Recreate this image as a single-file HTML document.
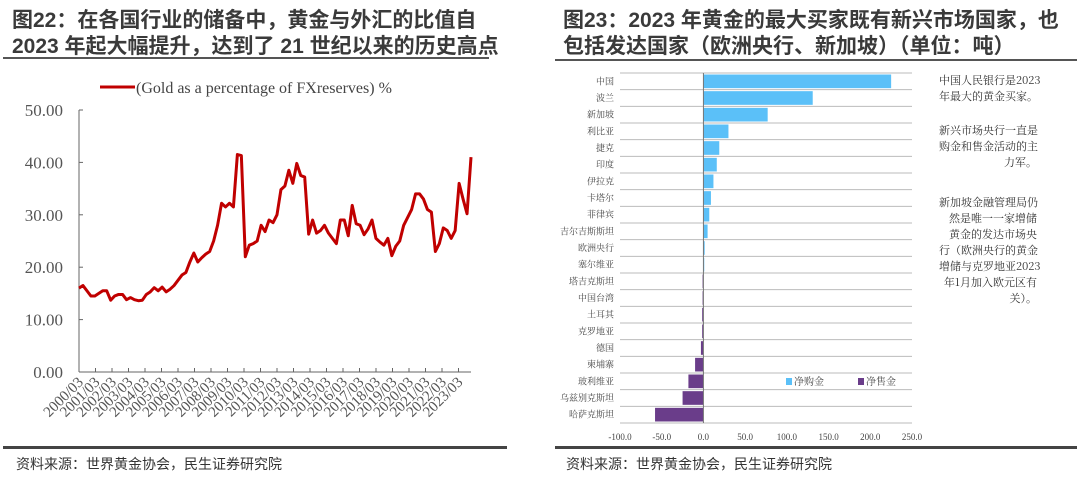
<!DOCTYPE html>
<html><head><meta charset="utf-8">
<style>
body{margin:0;width:1080px;height:478px;background:#fff;overflow:hidden;font-family:"Liberation Sans","Noto Sans CJK SC",sans-serif;}
svg{position:absolute;left:0;top:0}
</style></head>
<body>
<svg id="s" width="1080" height="478">
<text x="12" y="27" font-size="21" font-weight="bold" fill="#3a3a3a" font-family="'Liberation Sans','Noto Sans CJK SC',sans-serif">图22：在各国行业的储备中，黄金与外汇的比值自</text>
<text x="12" y="53" font-size="21" font-weight="bold" fill="#3a3a3a" font-family="'Liberation Sans','Noto Sans CJK SC',sans-serif">2023 年起大幅提升，达到了 21 世纪以来的历史高点</text>
<line x1="3" y1="58" x2="489" y2="58" stroke="#555" stroke-width="2"/>
<text x="563" y="27" font-size="21" font-weight="bold" fill="#3a3a3a" font-family="'Liberation Sans','Noto Sans CJK SC',sans-serif">图23：2023 年黄金的最大买家既有新兴市场国家，也</text>
<text x="563" y="53" font-size="21" font-weight="bold" fill="#3a3a3a" font-family="'Liberation Sans','Noto Sans CJK SC',sans-serif">包括发达国家（欧洲央行、新加坡）（单位：吨）</text>
<line x1="555" y1="60" x2="1077" y2="60" stroke="#555" stroke-width="2"/>
<line x1="3" y1="447.5" x2="507" y2="447.5" stroke="#444" stroke-width="3"/>
<line x1="555" y1="447.5" x2="1077" y2="447.5" stroke="#444" stroke-width="3"/>
<text x="16" y="469" font-size="14" fill="#333" font-family="'Liberation Sans','Noto Sans CJK SC',sans-serif">资料来源：世界黄金协会，民生证券研究院</text>
<text x="566" y="469" font-size="14" fill="#333" font-family="'Liberation Sans','Noto Sans CJK SC',sans-serif">资料来源：世界黄金协会，民生证券研究院</text>
<g id="left"></g>
<g id="right"></g>
<g id="notes" font-family="'Noto Serif CJK SC','Liberation Serif',serif" font-size="11" fill="#333">
<text x="939" y="84">中国人民银行是2023</text>
<text x="939" y="100">年最大的黄金买家。</text>
<text x="939" y="134">新兴市场央行一直是</text>
<text x="939" y="150">购金和售金活动的主</text>
<text x="1037" y="166" text-anchor="end">力军。</text>
<text x="939" y="206">新加坡金融管理局仍</text>
<text x="1037" y="222" text-anchor="end">然是唯一一家增储</text>
<text x="1037" y="238" text-anchor="end">黄金的发达市场央</text>
<text x="939" y="254">行（欧洲央行的黄金</text>
<text x="939" y="270">增储与克罗地亚2023</text>
<text x="1037" y="286" text-anchor="end">年1月加入欧元区有</text>
<text x="1037" y="302" text-anchor="end">关）。</text>
</g>
</svg>
<script>
const goldShare=[16,16.5,15.5,14.5, 14.5,15,15.5,15.5, 13.7,14.5,14.8,14.8, 13.8,14.2,13.8,13.6,
13.7,14.8,15.3,16.1, 15.5,16.2,15.3,15.8, 16.5,17.5,18.5,19, 21,22.7,21,21.8,
22.5,23,25,28, 32.2,31.5,32.2,31.5, 41.5,41.3,22,24.2, 24.5,25,28,26.8,
29,28.5,30,34.8, 35.5,38.5,36,39.8, 37.5,37.2,26.3,29, 26.5,27,28,26.5,
25.5,24.5,29,29, 26,31.8,28.3,28, 26.2,27.3,29,25.5, 24.8,24.2,25.5,22.2,
24,25,28,29.5, 31,34,34,33, 31,30.5,23,24.5, 27.5,27,25.5,27, 36,33,30.2,41];
const yTicks=[0,10,20,30,40,50];
const xTickLabels=["2000/03","2001/03","2002/03","2003/03","2004/03","2005/03","2006/03","2007/03","2008/03","2009/03","2010/03","2011/03","2012/03","2013/03","2014/03","2015/03","2016/03","2017/03","2018/03","2019/03","2020/03","2021/03","2022/03","2023/03"];
const countries=["中国","波兰","新加坡","利比亚","捷克","印度","伊拉克","卡塔尔","菲律宾","吉尔吉斯斯坦","欧洲央行","塞尔维亚","塔吉克斯坦","中国台湾","土耳其","克罗地亚","德国","柬埔寨","玻利维亚","乌兹别克斯坦","哈萨克斯坦"];
const netTonnes=[225,131,77,30,19,16,12,9,7,5,1.5,1,-1,-1,-1.5,-1.5,-3,-10,-18,-25,-58];
const bTicks=[-100,-50,0,50,100,150,200,250];

(function(){
const NS="http://www.w3.org/2000/svg";
function mk(p,t,a){const e=document.createElementNS(NS,t);for(const k in a)e.setAttribute(k,a[k]);p.appendChild(e);return e;}
const L=document.getElementById('left');
const x0=79,x1=471,yy0=372,yy1=110;
const ly=v=>yy0-(v-0)/(50-0)*(yy0-yy1);
const yearStep=16.5;
const lx=i=>x0+i*(x1-x0)/(goldShare.length-1);
let ax=mk(L,'line',{x1:x0,y1:yy1,x2:x0,y2:yy0,stroke:'#666'});


let bx=mk(L,'line',{x1:x0,y1:yy0,x2:x1,y2:yy0,stroke:'#666'});


yTicks.forEach(v=>{
 const t=mk(L,'text',{x:63,y:ly(v)+6,'text-anchor':'end','font-size':17,fill:'#555','font-family':"'Liberation Serif',serif"});
 t.textContent=v.toFixed(2);
 
 
 const m=mk(L,'line',{x1:x0,y1:ly(v),x2:x0+4,y2:ly(v),stroke:'#666'});
 
 
});
xTickLabels.forEach((s,i)=>{
 const x=x0+i*yearStep;
 const m=mk(L,'line',{x1:x,y1:yy0,x2:x,y2:yy0-4,stroke:'#666'});
 
 
 const t=mk(L,'text',{x:x+5,y:yy0+11,'text-anchor':'end','font-size':15,fill:'#555','font-family':"'Liberation Serif',serif",transform:`rotate(-45 ${x+5} ${yy0+11})`});
 t.textContent=s;
 
 
});
const pl=mk(L,'polyline',{points:goldShare.map((v,i)=>lx(i)+','+ly(v)).join(' '),fill:'none',stroke:'#c00000','stroke-width':3,'stroke-linejoin':'round'});


const lg=mk(L,'line',{x1:100,y1:87,x2:135,y2:87,stroke:'#c00000','stroke-width':3});


const lt=mk(L,'text',{x:136,y:93,'font-size':16,fill:'#444','font-family':"'Liberation Serif',serif"});
lt.textContent='(Gold as a percentage of FXreserves) %';



const R=document.getElementById('right');
const bx0=620,bx1=912,pTop=73,pBot=423;
const bxs=v=>bx0+(v-(-100))/(350)*(bx1-bx0);
const rowH=(pBot-pTop)/countries.length;
for(let i=0;i<=countries.length;i++){
 const g=mk(R,'line',{x1:bx0,y1:pTop+i*rowH,x2:bx1,y2:pTop+i*rowH,stroke:'#bbb','stroke-width':1});
 
 
}
countries.forEach((c,i)=>{
 const v=netTonnes[i];
 const y=pTop+i*rowH+1.5;
 const r=mk(R,'rect',{x:Math.min(bxs(0),bxs(v)),y:y,width:Math.abs(bxs(v)-bxs(0)),height:rowH-3,fill:v>=0?'#5bc0f8':'#6a3d8a'});
 
 
 const t=mk(R,'text',{x:614,y:pTop+i*rowH+rowH/2+3,'text-anchor':'end','font-size':9,fill:'#444','font-family':"'Noto Serif CJK SC',serif"});
 t.textContent=c;
 
 
});
const za=mk(R,'line',{x1:bxs(0),y1:pTop,x2:bxs(0),y2:pBot,stroke:'#777'});


bTicks.forEach(v=>{
 const t=mk(R,'text',{x:bxs(v),y:440,'text-anchor':'middle','font-size':9,fill:'#444','font-family':"'Liberation Serif',serif"});
 t.textContent=v.toFixed(1);
 
 
});
const s1=mk(R,'rect',{x:786,y:378,width:6,height:7,fill:'#5bc0f8'});


const t1=mk(R,'text',{x:794,y:385,'font-size':10,fill:'#444','font-family':"'Noto Serif CJK SC',serif"});t1.textContent='净购金';


const s2=mk(R,'rect',{x:858,y:378,width:6,height:7,fill:'#6a3d8a'});


const t2=mk(R,'text',{x:866,y:385,'font-size':10,fill:'#444','font-family':"'Noto Serif CJK SC',serif"});t2.textContent='净售金';


})();
</script>
</body></html>
